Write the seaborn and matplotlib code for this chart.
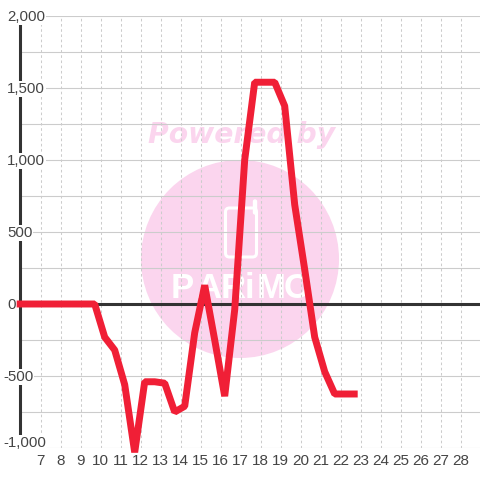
import matplotlib
matplotlib.use("Agg")

import matplotlib.pyplot as plt
from matplotlib.patches import Circle, FancyBboxPatch
from matplotlib.transforms import Affine2D
import pandas as pd
import seaborn as sns

# --- Data ---
X_VALUES = [5.8, 6.2, 6.7, 7.2, 7.7, 8.2, 8.7, 9.2, 9.7, 10.2, 10.7, 11.2, 11.7, 12.2, 12.7,
            13.2, 13.7, 14.2, 14.7, 15.2, 15.7, 16.2, 16.7, 17.2, 17.7, 18.2, 18.7, 19.2,
            19.7, 20.2, 20.7, 21.2, 21.7, 22.2, 22.85]
Y_VALUES = [0, 0, 0, 0, 0, 0, 0, 0, 0, -230, -320, -560, -1030, -540, -540,
            -550, -750, -710, -200, 130, -250, -640, -40, 1000, 1540, 1540, 1540, 1375,
            690, 240, -230, -470, -625, -625, -625]
X_TICKS = list(range(7, 29))
Y_MAJOR = [2000, 1500, 1000, 500, 0, -500, -1000]
Y_LABELS = ["2,000", "1,500", "1,000", "500", "0", "-500", "-1,000"]
Y_GRID = [-1000, -750, -500, -250, 250, 500, 750, 1000, 1250, 1500, 1750, 2000]

RED = "#F01F36"
DARK = "#333333"
GRID = "#CCCCCC"
PINK = "#FBD5EE"
TEXT = "#444444"

sns.set_theme(style="white")
plt.rcParams["font.family"] = ["Liberation Sans", "DejaVu Sans"]

fig = plt.figure(figsize=(4.8, 4.8), dpi=100, facecolor="white")
ax = fig.add_axes([20 / 480, 32 / 480, 460 / 480, 432 / 480])

df = pd.DataFrame({"x": X_VALUES, "y": Y_VALUES})

ax.set_xlim(5.965, 28.965)
ax.set_ylim(-1000, 2000)
for side in ["top", "right", "bottom"]:
    ax.spines[side].set_visible(False)
ax.spines["left"].set_linewidth(2.2)
ax.spines["left"].set_color(DARK)

# grid
ax.set_axisbelow(True)
ax.set_xticks(X_TICKS)
ax.set_yticks(Y_GRID)
ax.set_yticklabels([])
ax.tick_params(axis="both", length=0)
ax.tick_params(axis="x", labelsize=11, labelcolor=TEXT, pad=4.2)
ax.grid(axis="y", color=GRID, linewidth=0.8)
ax.grid(axis="x", color=GRID, linewidth=0.75, linestyle=(0, (2.5, 2.5)))
ax.axhline(0, color=DARK, linewidth=2.2, zorder=2.2)

# watermark, placed in pixels
px = Affine2D().scale(1, -1).translate(0, 480)
ax.add_patch(Circle((240, 259), 99, transform=px, color=PINK, lw=0, zorder=0))
ax.add_patch(FancyBboxPatch((225.5, 208), 31, 49, boxstyle="round,pad=0,rounding_size=4",
                            transform=px, fc="none", ec="white", lw=2.2, zorder=0.2))
ax.add_patch(FancyBboxPatch((253.5, 200), 3, 14, boxstyle="round,pad=0,rounding_size=1.5",
                            transform=px, fc="white", ec="white", lw=1, zorder=0.2))
ax.text(242, 135, "Powered by", transform=px, color=PINK, fontsize=20.3, fontweight="bold",
        fontstyle="italic", family="DejaVu Sans", ha="center", va="center", zorder=0.2)
for letter, xpos in zip("PARiMO", [182, 209, 233, 249, 271, 297]):
    ax.text(xpos, 289, letter, transform=px, color="white", fontsize=25, fontweight="bold",
            family=["Liberation Sans Narrow", "Liberation Sans"],
            ha="center", va="center", zorder=0.2)

sns.lineplot(data=df, x="x", y="y", ax=ax, color=RED, linewidth=5.0, clip_on=False, zorder=4,
             solid_joinstyle="bevel", solid_capstyle="butt", errorbar=None, sort=False)
ax.set_xlabel("")
ax.set_ylabel("")

# y labels sit on the axis line with a white box behind them
for value, label in zip(Y_MAJOR, Y_LABELS):
    left = 3 if label.startswith("-") else 7
    ypos = 480 - (305 - value * 0.144) if value != -1000 else 37
    ax.text(left, ypos, label, transform=Affine2D(), fontsize=10.8, color=TEXT, ha="left",
            va="center", zorder=3, clip_on=False,
            bbox=dict(facecolor="white", edgecolor="none", pad=0.6))

fig.savefig("out.png", dpi=100)
plt.close(fig)
